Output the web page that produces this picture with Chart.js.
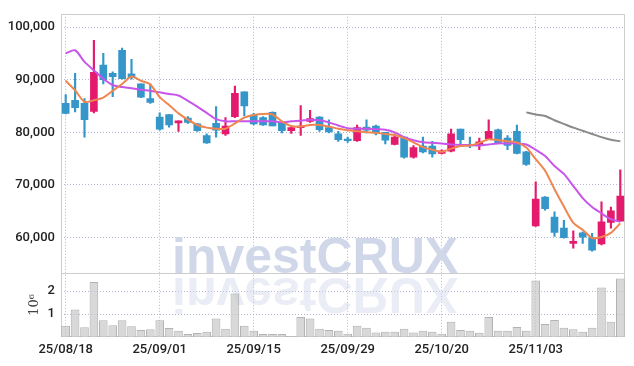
<!DOCTYPE html>
<html>
<head>
<meta charset="utf-8">
<script src="https://cdn.jsdelivr.net/npm/chart.js@4.4.1/dist/chart.umd.min.js"></script>
<style>
html,body{margin:0;padding:0;background:#fff}
#c{display:block}
</style>
</head>
<body>
<canvas id="c" width="634" height="366"></canvas>
<script>
'use strict';

/* ═══════════ DATA ═══════════ */
var dates=['25/08/18','25/08/19','25/08/20','25/08/21','25/08/22','25/08/25','25/08/26','25/08/27','25/08/28','25/08/29',
  '25/09/01','25/09/02','25/09/03','25/09/04','25/09/05','25/09/08','25/09/09','25/09/10','25/09/11','25/09/12',
  '25/09/15','25/09/16','25/09/17','25/09/18','25/09/19','25/09/22','25/09/23','25/09/24','25/09/25','25/09/26',
  '25/09/29','25/09/30','25/10/01','25/10/02','25/10/10','25/10/13','25/10/14','25/10/15','25/10/16','25/10/17',
  '25/10/20','25/10/21','25/10/22','25/10/23','25/10/24','25/10/27','25/10/28','25/10/29','25/10/30','25/10/31',
  '25/11/03','25/11/04','25/11/05','25/11/06','25/11/07','25/11/10','25/11/11','25/11/12','25/11/13','25/11/14'];
var opens =[85500,86100,85500,84000,92800,91200,95600,91100,89200,86400,
  82900,83400,81800,82700,81600,79400,81700,79700,83000,87700,
  83300,82800,83800,81700,80300,80900,82100,82900,80900,79700,
  78700,78400,81000,81200,80000,77700,79100,75300,77400,77400,
  76000,76400,80600,77700,77700,78800,80500,78900,80200,76300,
  62200,67700,63900,61800,58900,60900,60000,58800,62900,63100];
var highs =[87200,91200,86400,97500,95000,91500,96000,93900,89200,89200,
  83700,83400,82200,83000,81700,79700,84900,82800,88800,87700,
  83600,83000,83900,81700,81000,85100,84200,83000,82400,80200,
  79100,81400,82400,81400,80000,79700,79200,77500,79100,78300,
  76700,80600,80600,79100,78900,82400,80600,79400,81400,76400,
  70600,67800,64900,63300,61300,61100,60800,66800,65800,72900];
var lows  =[83500,83900,79100,83700,89200,86800,90100,90100,86600,85500,
  80400,81000,80200,81700,80200,77900,79100,79400,82800,83100,
  81400,81300,81200,79900,79800,79400,81900,80200,79900,78300,
  78100,78300,79900,79500,77800,77600,75100,75100,76100,75300,
  75900,76300,77400,77100,76700,78600,77900,76700,75900,73700,
  62100,65200,60200,59900,58000,58900,57400,58600,61800,63100];
var closes=[83600,84700,82400,91400,90000,90600,90200,90400,86700,85700,
  80600,81400,82200,81900,80300,78000,80400,81200,87400,85000,
  81600,81400,81200,80300,80900,81200,82600,80500,80100,78600,
  78400,80900,80400,79900,78500,79100,75300,77100,76300,75900,
  76500,79700,78600,77400,78200,80200,78000,77500,76000,73900,
  67300,65500,61000,60000,59300,60100,57600,63000,65100,67900];
var ma5 =[89800,88000,85800,86100,86600,87900,89200,90600,89800,89100,
  86700,85200,83600,82400,81400,80900,80700,80700,81700,82800,
  83300,83500,83400,82100,81200,81100,81400,81400,81100,80700,
  80400,80200,80000,79900,79700,79500,78900,78100,77200,76700,
  76300,76900,77400,77500,78000,78700,78500,78300,78100,77100,
  74900,72700,69200,65900,62800,61500,59900,60100,60900,62700];
var ma20=[95000,95600,93400,91800,90200,89000,88600,88400,88100,87900,
  87600,87300,87000,86000,84900,83700,82500,82100,82100,82100,
  82100,82100,82100,81900,82100,82200,82400,82300,81900,81300,
  80800,80700,80700,80600,80500,80000,79100,78500,78100,78000,
  77900,77700,77600,77600,77500,77700,77900,77900,77900,77700,
  76700,75500,73600,72100,69800,67500,65800,64600,63500,63000];
var ma60=[null,null,null,null,null,null,null,null,null,null,
  null,null,null,null,null,null,null,null,null,null,
  null,null,null,null,null,null,null,null,null,null,
  null,null,null,null,null,null,null,null,null,null,
  null,null,null,null,null,null,null,null,null,83800,
  83400,83100,82300,81600,80900,80300,79700,79100,78600,78300];
var volume=[490000,1200000,430000,2400000,730000,510000,730000,470000,300000,340000,
  730000,390000,270000,130000,170000,230000,810000,360000,1900000,490000,
  270000,130000,130000,130000,40000,870000,810000,360000,310000,270000,
  140000,490000,400000,200000,230000,230000,360000,200000,270000,230000,
  140000,660000,310000,270000,180000,870000,270000,270000,440000,270000,
  2460000,570000,740000,400000,340000,230000,400000,2160000,660000,2550000];
var priceTicks=[60000,70000,80000,90000,100000];
var volTicks=[1000000,2000000];

/* ═══════════ STYLE ═══════════ */
var UP='#e41a6c',DN='#3496c9',GRID='rgba(165,172,205,0.85)',FRAME='#cdcdcd';
var TICKFONT={family:'Roboto, "Liberation Sans", sans-serif',size:13,weight:'500'};
var candleCol=closes.map(function(c,i){return c>=opens[i]?UP:DN});

/* watermark + frame, drawn under the marks */
var deco={id:'deco',
  beforeDatasetsDraw:function(chart){var ctx=chart.ctx,a=chart.chartArea,yv=chart.scales.yv;
    ctx.save();
    ctx.font='bold 50px "Liberation Sans", Arial, sans-serif';ctx.textBaseline='alphabetic';
    ctx.fillStyle='#d0d7e9';ctx.fillText('investCRUX',172,273);
    ctx.translate(0,2*273+5);ctx.scale(1,-1);
    ctx.fillStyle='rgba(208,215,233,0.45)';ctx.fillText('investCRUX',172,273);
    ctx.restore();
    ctx.save();ctx.strokeStyle=FRAME;ctx.lineWidth=1;
    var l=Math.round(a.left)+0.5,t=Math.round(a.top)+0.5,r=Math.round(a.right)-0.5,b=Math.round(a.bottom)-0.5;
    ctx.strokeRect(l,t,r-l,b-t);
    var s=Math.round(yv.top)+0.5;
    ctx.beginPath();ctx.moveTo(l,s);ctx.lineTo(r,s);ctx.stroke();
    ctx.restore()}};

function fixW(w){return function(s){s.width=w}}

new Chart(document.getElementById('c'),{
  type:'bar',
  data:{labels:dates,datasets:[
    {type:'line',data:ma5,yAxisID:'y',borderColor:'#ef8650',borderWidth:2,pointRadius:0,tension:0.25,order:0},
    {type:'line',data:ma20,yAxisID:'y',borderColor:'#c855ea',borderWidth:2,pointRadius:0,tension:0.25,order:0},
    {type:'line',data:ma60,yAxisID:'y',borderColor:'#8a8a8a',borderWidth:2,pointRadius:0,tension:0.25,order:0},
    {data:lows.map(function(l,i){return[l,highs[i]]}),yAxisID:'y',backgroundColor:candleCol,barThickness:1.5,grouped:false,order:2},
    {data:opens.map(function(o,i){return[o,closes[i]]}),yAxisID:'y',backgroundColor:candleCol,barThickness:7,grouped:false,order:1},
    {data:volume,yAxisID:'yv',backgroundColor:'rgba(200,200,200,0.7)',borderColor:'rgba(160,160,160,0.8)',borderWidth:1,
      barPercentage:1,categoryPercentage:0.92,grouped:false,order:3}
  ]},
  options:{responsive:false,animation:false,
    layout:{padding:{top:9,right:9,left:0,bottom:0}},
    plugins:{legend:{display:false},tooltip:{enabled:false}},
    scales:{
      x:{offset:true,afterFit:function(s){s.height=29},
        grid:{offset:false,drawTicks:false,color:function(c){return c.index%10===0?GRID:'rgba(0,0,0,0)'}},
        border:{display:false,dash:[1,2]},
        ticks:{autoSkip:false,maxRotation:0,padding:5,color:'#222',font:TICKFONT,
          callback:function(v,i){return i%10===0?dates[i]:''}}},
      /* left boxes are laid out in reverse, so the volume panel is listed first to sit at the bottom */
      yv:{position:'left',stack:'p',stackWeight:65,min:0,max:2790000,afterFit:fixW(61),
        afterBuildTicks:function(s){s.ticks=volTicks.map(function(v){return{value:v}})},
        grid:{drawTicks:false,color:GRID},border:{display:false,dash:[1,2]},
        title:{display:true,text:'10\u2076',color:'#444',padding:{top:27,bottom:0},font:{family:'"DejaVu Serif", serif',size:13}},
        ticks:{padding:6,color:'#222',font:TICKFONT,callback:function(v){return v/1e6}}},
      y:{position:'left',stack:'p',stackWeight:263,min:53280,max:102530,afterFit:fixW(61),
        afterBuildTicks:function(s){s.ticks=priceTicks.map(function(v){return{value:v}})},
        grid:{drawTicks:false,color:GRID},border:{display:false,dash:[1,2]},
        ticks:{padding:6,color:'#222',font:TICKFONT,callback:function(v){return v.toLocaleString('en-US')}}}
    }},
  plugins:[deco]
});
</script>
</body>
</html>
